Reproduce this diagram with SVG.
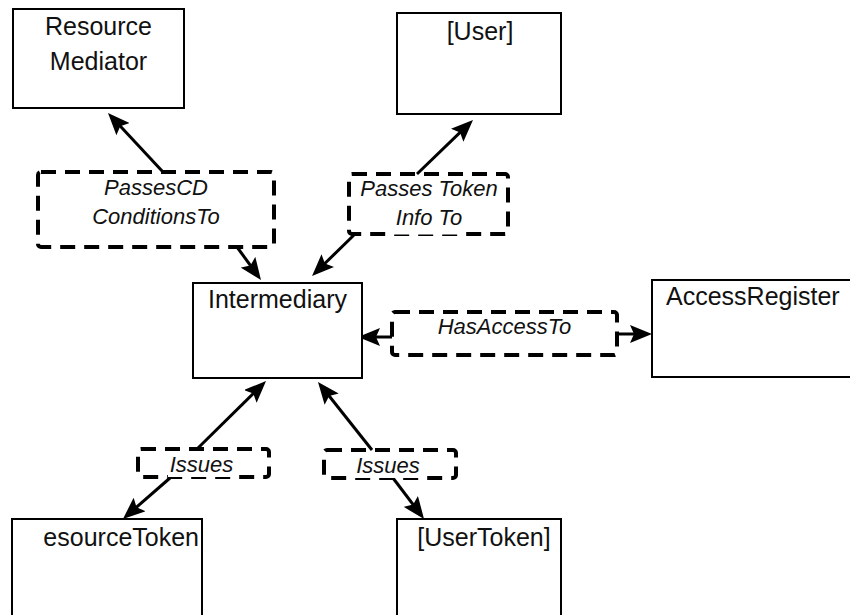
<svg xmlns="http://www.w3.org/2000/svg" width="850" height="615" viewBox="0 0 850 615">
  <defs>
    <style>
      .node { fill: #ffffff; stroke: #000000; stroke-width: 2; }
      .name { font-family: "Liberation Sans", Arial, sans-serif; font-size: 25px; fill: #111111; }
      .rel { fill: none; stroke: #000000; stroke-width: 4; stroke-dasharray: 15 9; }
      .relname { font-family: "Liberation Sans", Arial, sans-serif; font-size: 22px; font-style: italic; fill: #111111; text-anchor: middle; }
      .textbg { fill: #ffffff; stroke: none; }
      .link { fill: none; stroke: #000000; stroke-width: 3; marker-end: url(#head); }
    </style>
    <marker id="head" viewBox="0 0 22 18" refX="12" refY="9" markerWidth="22" markerHeight="18" markerUnits="userSpaceOnUse" orient="auto">
      <path d="M0,0 L22,9 L0,18 L4,9 z" fill="#000000"/>
    </marker>
  </defs>

  <rect x="0" y="0" width="850" height="615" fill="#ffffff"/>

  <!-- connectors -->
  <g id="connectors">
    <line class="link" x1="163" y1="172" x2="114.8" y2="120.3"/>
    <line class="link" x1="237" y1="247" x2="255.1" y2="271.9"/>
    <line class="link" x1="417" y1="174" x2="465.8" y2="126.9"/>
    <line class="link" x1="355" y1="234" x2="319.2" y2="269.0"/>
    <line class="link" x1="392" y1="337" x2="368" y2="337"/>
    <line class="link" x1="617" y1="334" x2="642" y2="334"/>
    <line class="link" x1="197" y1="449" x2="258.9" y2="388.0"/>
    <line class="link" x1="170" y1="478" x2="130.5" y2="512.4"/>
    <line class="link" x1="372" y1="450" x2="324.2" y2="389.8"/>
    <line class="link" x1="393" y1="478" x2="418.0" y2="511.0"/>
  </g>

  <!-- entities -->
  <g id="resource-mediator">
    <rect class="node" x="13" y="9" width="171" height="99"/>
    <text class="name" x="98.5" y="35" text-anchor="middle">Resource</text>
    <text class="name" x="98.5" y="70" text-anchor="middle">Mediator</text>
  </g>

  <g id="user">
    <rect class="node" x="397" y="13" width="164" height="101"/>
    <text class="name" x="480" y="40" text-anchor="middle">[User]</text>
  </g>

  <g id="intermediary">
    <rect class="node" x="193" y="283" width="169" height="95"/>
    <text class="name" x="277.5" y="308" text-anchor="middle">Intermediary</text>
  </g>

  <g id="access-register">
    <rect class="node" x="652" y="280" width="260" height="97"/>
    <text class="name" x="666" y="305">AccessRegister</text>
  </g>

  <g id="resource-token">
    <rect class="node" x="12" y="519" width="190" height="130"/>
    <text class="name" x="199" y="546" text-anchor="end">esourceToken</text>
  </g>

  <g id="user-token">
    <rect class="node" x="397" y="519" width="164" height="130"/>
    <text class="name" x="484" y="546" text-anchor="middle">[UserToken]</text>
  </g>

  <!-- relationships -->
  <g id="passes-cd-conditions-to">
    <rect class="rel" x="38" y="172" width="236" height="75" rx="3"/>
    <text class="relname" x="156" y="195">PassesCD</text>
    <text class="relname" x="156" y="224">ConditionsTo</text>
  </g>

  <g id="passes-token-info-to">
    <rect class="rel" x="349" y="174" width="159" height="60" rx="3"/>
    <rect class="textbg" x="394" y="207" width="72" height="27.5"/>
    <text class="relname" x="429" y="196">Passes Token</text>
    <text class="relname" x="429" y="225">Info To</text>
  </g>

  <g id="has-access-to">
    <rect class="rel" x="392" y="312" width="225" height="43" rx="3"/>
    <text class="relname" x="504.5" y="334">HasAccessTo</text>
  </g>

  <g id="issues-resource-token">
    <rect class="rel" x="138" y="449" width="131" height="28" rx="3"/>
    <rect class="textbg" x="168" y="453" width="68" height="24"/>
    <text class="relname" x="201.5" y="472">Issues</text>
  </g>

  <g id="issues-user-token">
    <rect class="rel" x="324" y="450" width="132" height="28" rx="3"/>
    <rect class="textbg" x="354" y="454" width="68" height="24"/>
    <text class="relname" x="388" y="473">Issues</text>
  </g>
</svg>
